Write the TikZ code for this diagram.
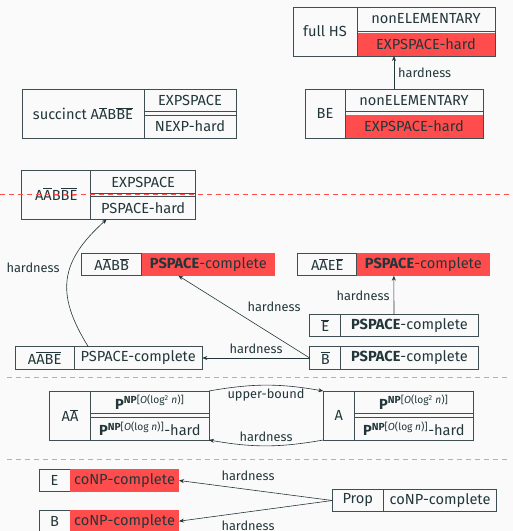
\documentclass[tikz,border=0pt]{standalone}
\usepackage{fontspec}
\setmainfont{Fira Sans}
\usetikzlibrary{arrows.meta}
\definecolor{bg}{HTML}{FAFAFA}
\definecolor{tx}{HTML}{23373B}
\definecolor{ln}{HTML}{3E4E52}
\definecolor{hred}{HTML}{FF4C4C}
\newcommand\ol[1]{\ensuremath{\overline{\mbox{#1}}}}
\newcommand\nf{\fontsize{14.6}{16}\selectfont}
\newcommand\lf{\fontsize{12.8}{14}\selectfont}
\newcommand\PNP[1]{\textbf{P}\textsuperscript{\textbf{NP}[\textit{O}(#1)]}}
\begin{document}
\begin{tikzpicture}[x=1pt,y=-1pt,
  box/.style={draw=ln, line width=0.6pt, inner sep=0pt, outer sep=0pt, anchor=north west, text=tx, font=\nf},
  rcell/.style={fill=hred, draw=none, inner sep=0pt, outer sep=0pt, anchor=north west, text=tx, font=\nf},
  obox/.style={draw=ln, line width=0.6pt, inner sep=0pt, outer sep=0pt, anchor=north west},
  onode/.style={draw=none, inner sep=0pt, outer sep=0pt, anchor=north west},
  lbl/.style={text=tx, font=\lf, inner sep=1pt},
  arr/.style={-{Stealth[length=5pt,width=4pt]}, draw=tx, line width=0.6pt},
  sep/.style={dash pattern=on 5pt off 4pt, line width=0.7pt}]
\useasboundingbox[fill=bg] (0,0) rectangle (513,531);
% full HS
\node[rcell, minimum width=138pt, minimum height=23pt] (fhsB) at (357,33) {EXPSPACE-hard};
\node[obox, minimum width=202pt, minimum height=49pt] (fhs) at (293,7) {};
\node[box, minimum width=64pt, minimum height=49pt] (fhsL) at (293,7) {full HS};
\node[box, minimum width=138pt, minimum height=24pt] (fhsT) at (357,7) {nonELEMENTARY};
% BE
\node[rcell, minimum width=138pt, minimum height=23pt] (beB) at (345,115) {EXPSPACE-hard};
\node[obox, minimum width=178pt, minimum height=49pt] (be) at (305,89) {};
\node[box, minimum width=40pt, minimum height=49pt] (beL) at (305,89) {BE};
\node[box, minimum width=138pt, minimum height=22.5pt] (beT) at (345,89) {nonELEMENTARY};
% succinct
\node[obox, minimum width=214pt, minimum height=49pt] (suc) at (22,89) {};
\node[box, minimum width=122pt, minimum height=49pt] (sucL) at (22,89) {succinct A\ol{A}B\ol{B}\ol{E}};
\node[box, minimum width=92pt, minimum height=22.5pt] (sucT) at (144,89) {EXPSPACE};
\node[box, minimum width=92pt, minimum height=23pt] (sucB) at (144,115) {NEXP-hard};
% AABBE
\node[obox, minimum width=174pt, minimum height=48.6pt] (aabbe) at (21.7,170.7) {};
\node[box, minimum width=69pt, minimum height=48.6pt] (aabbeL) at (21.7,170.7) {\raisebox{2pt}{A\ol{A}B\ol{B}\ol{E}}};
\node[box, minimum width=105pt, minimum height=22.6pt] (aabbeT) at (90.7,170.7) {EXPSPACE};
\node[box, minimum width=105pt, minimum height=22.6pt] (aabbeB) at (90.7,196.7) {PSPACE-hard};
% AABB
\node[onode, minimum width=193.3pt, minimum height=22.4pt] (aabb) at (81.7,253.3) {};
\node[box, minimum width=60pt, minimum height=22.4pt] (aabbL) at (81.7,253.3) {A\ol{A}B\ol{B}};
\node[rcell, minimum width=133.3pt, minimum height=22.4pt] (aabbR) at (141.7,253.3) {\textbf{PSPACE}-complete};
% AAEE
\node[onode, minimum width=192.3pt, minimum height=22.4pt] (aaee) at (297.7,253.3) {};
\node[box, minimum width=59pt, minimum height=22.4pt] (aaeeL) at (297.7,253.3) {A\ol{A}E\ol{E}};
\node[rcell, minimum width=133.3pt, minimum height=22.4pt] (aaeeR) at (356.7,253.3) {\textbf{PSPACE}-complete};
% Ebar
\node[onode, minimum width=168.6pt, minimum height=22.4pt] (ebar) at (309.7,314.3) {};
\node[box, minimum width=31pt, minimum height=22.4pt] (ebarL) at (309.7,314.3) {\ol{E}};
\node[box, minimum width=137.6pt, minimum height=22.4pt] (ebarR) at (340.7,314.3) {\textbf{PSPACE}-complete};
% Bbar
\node[onode, minimum width=168.6pt, minimum height=22.6pt] (bbar) at (309.7,346.7) {};
\node[box, minimum width=31pt, minimum height=22.6pt] (bbarL) at (309.7,346.7) {\ol{B}};
\node[box, minimum width=137.6pt, minimum height=22.6pt] (bbarR) at (340.7,346.7) {\textbf{PSPACE}-complete};
% AABE
\node[onode, minimum width=187pt, minimum height=22.6pt] (aabe) at (15.3,346.7) {};
\node[box, minimum width=58.7pt, minimum height=22.6pt] (aabeL) at (15.3,346.7) {A\ol{A}\ol{B}\ol{E}};
\node[box, minimum width=128.3pt, minimum height=22.6pt] (aabeR) at (74,346.7) {PSPACE-complete};
% AA
\node[obox, minimum width=159.7pt, minimum height=49pt] (aa) at (49.3,391) {};
\node[box, minimum width=41.4pt, minimum height=49pt] (aaL) at (49.3,391) {A\ol{A}};
\node[box, minimum width=118.3pt, minimum height=22.3pt] (aaT) at (90.7,391) {\PNP{log\textsuperscript{2} \textit{n}}};
\node[box, minimum width=118.3pt, minimum height=22.7pt] (aaB) at (90.7,417.3) {\PNP{log \textit{n}}-hard};
% A
\node[obox, minimum width=150pt, minimum height=49pt] (a) at (323.3,391) {};
\node[box, minimum width=31pt, minimum height=49pt] (aL) at (323.3,391) {A};
\node[box, minimum width=119pt, minimum height=22.3pt] (aT) at (354.3,391) {\PNP{log\textsuperscript{2} \textit{n}}};
\node[box, minimum width=119pt, minimum height=22.7pt] (aB) at (354.3,417.3) {\PNP{log \textit{n}}-hard};
% E
\node[onode, minimum width=140pt, minimum height=22.4pt] (e) at (39,469.3) {};
\node[box, minimum width=31pt, minimum height=22.4pt] (eL) at (39,469.3) {E};
\node[rcell, minimum width=109pt, minimum height=22.4pt] (eR) at (70,469.3) {coNP-complete};
% B
\node[onode, minimum width=140pt, minimum height=22.4pt] (b) at (39,510) {};
\node[box, minimum width=31pt, minimum height=22.4pt] (bL) at (39,510) {B};
\node[rcell, minimum width=109pt, minimum height=22.4pt] (bR) at (70,510) {coNP-complete};
% Prop
\node[onode, minimum width=164.4pt, minimum height=22.4pt] (prop) at (332.3,489.3) {};
\node[box, minimum width=51pt, minimum height=22.4pt] (propL) at (332.3,489.3) {Prop};
\node[box, minimum width=113.4pt, minimum height=22.4pt] (propR) at (383.3,489.3) {coNP-complete};
% arrows
\draw[arr] (be.north) -- (fhs.south);
\node[lbl, anchor=west] (l1) at (397,73) {hardness};
\draw[arr] (bbar.west) -- (aabe.east);
\node[lbl] (l2) at (256,349) {hardness};
\draw[arr] (bbar.west) -- (aabb.south);
\node[lbl] (l3) at (274,307) {hardness};
\draw[arr] (ebar.north) -- (aaee.south);
\node[lbl] (l4) at (363,296) {hardness};
\draw[arr] ([xshift=-20.5pt]aabe.north) to[out=122,in=222,looseness=1.25] ([xshift=-2pt]aabbe.south);
\node[lbl] (l5) at (33,268) {hardness};
\draw[arr] (aa.north east) to[bend left=10] (a.north west);
\node[lbl] (l6) at (266,395) {upper-bound};
\draw[arr] (a.south west) to[bend left=10] (aa.south east);
\node[lbl] (l7) at (266,437) {hardness};
\draw[arr] (prop.west) -- (e.east);
\node[lbl] (l8) at (248,476) {hardness};
\draw[arr] (prop.west) -- (b.east);
\node[lbl] (l9) at (248,526) {hardness};
% separators
\draw[sep, draw=hred] (0,194.3) -- (513,194.3);
\draw[sep, draw=gray!60] (7,377.3) -- (510,377.3);
\draw[sep, draw=gray!60] (7,459.3) -- (510,459.3);
\end{tikzpicture}
\end{document}
